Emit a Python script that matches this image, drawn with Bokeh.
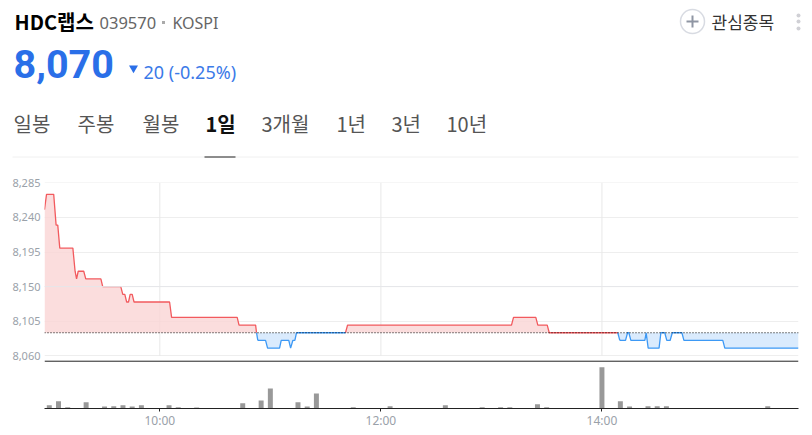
from bokeh.plotting import figure
from bokeh.layouts import column
from bokeh.models import FixedTicker, Range1d, Span
from bokeh.core.properties import value
from bokeh.embed import file_html
from bokeh.resources import INLINE
import numpy as np

# ---- data -----------------------------------------------------------
BASE_PRICE = 8090
price_ticks = [8060, 8105, 8150, 8195, 8240, 8285]
time_ticks = [60, 180, 300]
time_labels = ["10:00", "12:00", "14:00"]

minutes = [-2.6, -1.5, 2.4, 3.7, 4.6, 5.7, 12.8, 14.0, 14.8, 15.7, 18.7, 19.8, 28.0, 29.0,
           38.8, 39.9, 41.0, 42.0, 43.0, 43.9, 45.0, 46.0, 65.3, 66.4, 102.0, 103.0, 112.0,
           112.5, 113.2, 117.4, 118.5, 125.0, 125.9, 130.0, 131.0, 132.2, 133.3, 134.2,
           160.8, 161.9, 250.9, 252.0, 264.1, 265.2, 270.3, 271.4, 308.6, 309.7, 312.8,
           313.9, 314.6, 315.7, 323.3, 324.0, 325.1, 331.0, 332.0, 334.1, 335.2, 337.0,
           338.2, 343.4, 344.5, 365.6, 366.7, 406.7]
prices = [8250, 8270, 8270, 8230, 8230, 8200, 8200, 8170, 8160, 8170, 8170, 8160, 8160, 8150,
          8150, 8140, 8140, 8130, 8130, 8140, 8140, 8130, 8130, 8110, 8110, 8100, 8100,
          8090, 8080, 8080, 8070, 8070, 8080, 8080, 8070, 8080, 8080, 8090,
          8090, 8100, 8100, 8110, 8110, 8100, 8100, 8090, 8090, 8080, 8080,
          8090, 8090, 8080, 8080, 8090, 8070, 8070, 8090, 8090, 8080, 8080,
          8090, 8090, 8080, 8080, 8070, 8070]
red_periods = [(-2.6, 112.5), (160.8, 308.6)]

vol_minutes = [0, 5, 10, 20, 30, 35, 40, 45, 50, 65, 70, 80, 105, 115, 120, 135, 140, 145, 165,
               185, 215, 235, 245, 250, 265, 270, 300, 310, 315, 325, 330, 335, 390]
volumes = [330, 730, 130, 630, 200, 230, 330, 200, 330, 330, 130, 100, 530, 800, 2000, 630, 200,
           1500, 130, 230, 330, 130, 130, 130, 430, 130, 4130, 730, 200, 230, 230, 230, 230]

title_texts = ["HDC랩스", "039570", "KOSPI"]
price_text = "8,070"
change_text = "20 (-0.25%)"
tab_labels = ["일봉", "주봉", "월봉", "1일", "3개월", "1년", "3년", "10년"]
tab_x = [13, 77, 142, 205, 261, 336, 391, 446]
watch_text = "관심종목"

KR = value("Noto Sans CJK KR")
RO = value("Roboto")

# ---- header: range equals page pixels --------------------------------
h = figure(width=812, height=172, x_range=Range1d(0, 812), y_range=Range1d(172, 0),
           output_backend="svg", toolbar_location=None, min_border=0, frame_align=False,
           outline_line_color=None, border_fill_color="white")
h.axis.visible = False
h.grid.visible = False

def label(x, y, t, size, color, font=KR, style="normal", align="left"):
    h.text([x], [y], text=[t], text_font=font, text_font_size=f"{size}px", text_color=color,
           text_font_style=style, text_baseline="middle", text_align=align)

label(14, 21, title_texts[0], 20, "#000000", style="bold")
label(99, 22, title_texts[1], 16.5, "#666666", font=value("Noto Sans"))
h.rect([163], [22], width=3, height=3, fill_color="#aaaaaa", line_color=None)
label(172, 22, title_texts[2], 16, "#666666", font=value("Noto Sans"))
label(13, 63, price_text, 39.5, "#2a6fe8", font=RO, style="bold")
h.scatter([133], [67.5], marker="inverted_triangle", size=9, fill_color="#2a6fe8", line_color=None)
label(143, 71, change_text, 18, "#3b7ae8", font=value("Noto Sans"))
for t, x in zip(tab_labels, tab_x):
    if t == "1일":
        label(x, 123, t, 20, "#111111", style="bold")
    else:
        label(x, 123, t, 20, "#555555")
h.segment([12], [156.5], [798], [156.5], line_color="#f0f0f0", line_width=1)
h.segment([204], [156.5], [235], [156.5], line_color="#222222", line_width=1)
h.circle([692], [21], radius=12, fill_color="white", line_color="#d8dbe2", line_width=1.5)
h.segment([686, 692], [21, 15], [698, 692], [21, 27], line_color="#8f96a3", line_width=2)
label(711, 21, watch_text, 17, "#333333")
h.scatter([798, 798, 798], [15, 21, 28], marker="circle", size=4, fill_color="#d0d0d5", line_color=None)

# ---- chart -----------------------------------------------------------
m = np.array(minutes, dtype=float)
pr = np.array(prices, dtype=float)
is_red = np.zeros(len(m), dtype=bool)
for a, b in red_periods:
    is_red |= (m >= a) & (m <= b)

p = figure(width=812, height=263, frame_width=754, frame_height=226,
           x_range=Range1d(-2.6, 406.7), y_range=Range1d(7991.5, 8285.4),
           output_backend="svg", toolbar_location=None, frame_align=False,
           min_border_left=44, min_border_right=14, min_border_top=10, min_border_bottom=27,
           outline_line_color=None, border_fill_color="white", y_axis_location="left")

p.extra_y_ranges = {"vol": Range1d(0, 22600)}

p.xgrid.visible = False
p.ygrid.ticker = FixedTicker(ticks=price_ticks)
p.ygrid.grid_line_color = "#eeeeee"
p.ygrid.grid_line_width = 1

p.yaxis.ticker = FixedTicker(ticks=price_ticks)
p.yaxis.major_label_overrides = {v: f"{v:,}" for v in price_ticks}
p.yaxis.axis_line_color = None
p.yaxis.major_tick_line_color = None
p.yaxis.minor_tick_line_color = None
p.yaxis.major_tick_out = 0
p.yaxis.major_label_standoff = 4
p.yaxis.major_label_text_font = "Noto Sans"
p.yaxis.major_label_text_font_size = "11px"
p.yaxis.major_label_text_color = "#9aa1a9"
p.yaxis.major_label_text_baseline = "bottom"

p.xaxis.ticker = FixedTicker(ticks=time_ticks)
p.xaxis.major_label_overrides = dict(zip(time_ticks, time_labels))
p.xaxis.axis_line_color = "#222222"
p.xaxis.major_tick_line_color = "#222222"
p.xaxis.minor_tick_line_color = None
p.xaxis.major_tick_out = 3
p.xaxis.major_tick_in = 0
p.xaxis.major_label_standoff = 0
p.xaxis.major_label_text_font = "Noto Sans"
p.xaxis.major_label_text_font_size = "12px"
p.xaxis.major_label_text_color = "#9aa1a9"

# vertical hour lines span the price panel only
p.segment(time_ticks, [price_ticks[0]] * 3, time_ticks, [price_ticks[-1]] * 3,
          line_color="#e8e8e8", line_width=1)
p.add_layout(Span(location=8150, dimension="width", line_color="#e6e7ea", line_width=1))

# areas
p.varea(m, y1=np.maximum(pr, BASE_PRICE), y2=BASE_PRICE, fill_color="#fad4d4", fill_alpha=0.8)
p.varea(m, y1=np.minimum(pr, BASE_PRICE), y2=BASE_PRICE, fill_color="#d3e7fd", fill_alpha=0.85)

# lines
red_y = np.where(is_red, pr, np.nan)
blue_y = np.where(~is_red, pr, np.nan)
p.line(m, red_y, line_color="#f25a5e", line_width=1.3)
p.line(m, blue_y, line_color="#3d99f5", line_width=1.3)
for i in range(len(m) - 1):
    if is_red[i] != is_red[i + 1]:
        col = "#f25a5e" if pr[i + 1] > BASE_PRICE or pr[i] > BASE_PRICE else "#3d99f5"
        p.line(m[i:i + 2], pr[i:i + 2], line_color=col, line_width=1.3)

p.add_layout(Span(location=BASE_PRICE, dimension="width", line_color="#000000", line_width=1, line_dash="1 2"))
p.add_layout(Span(location=8053, dimension="width", line_color="#222222", line_width=1))

# volume
p.vbar(x=vol_minutes, top=volumes, bottom=0, width=2.7, fill_color="#999999", line_color=None, y_range_name="vol")

page = column(h, p, spacing=0)
open("out.html", "w").write(file_html(page, INLINE))
